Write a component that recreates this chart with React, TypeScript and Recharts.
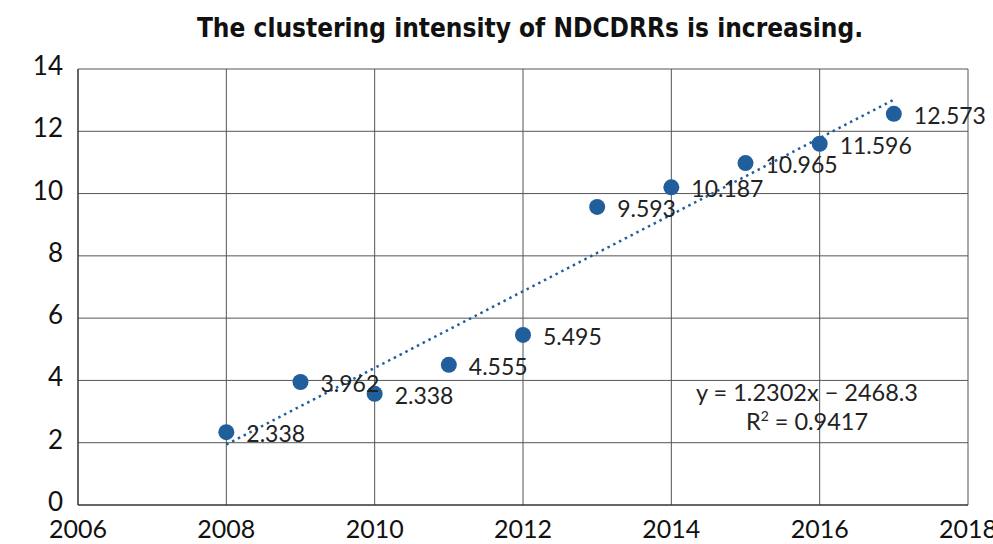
import { ScatterChart, Scatter, XAxis, YAxis, CartesianGrid, LabelList } from "recharts";

const years = [2008, 2009, 2010, 2011, 2012, 2013, 2014, 2015, 2016, 2017];
const values = [2.34, 3.95, 3.57, 4.5, 5.46, 9.57, 10.2, 10.98, 11.6, 12.56];
const labels = ["2.338", "3.962", "2.338", "4.555", "5.495", "9.593", "10.187", "10.965", "11.596", "12.573"];
const xTicks = [2006, 2008, 2010, 2012, 2014, 2016, 2018];
const yTicks = [0, 2, 4, 6, 8, 10, 12, 14];

// trendline from the printed equation
const slope = 1.2302;
const intercept = -2468.3;

const points = years.map((x, i) => ({ x, y: values[i], label: labels[i] }));
const trend = [years[0], years[years.length - 1]].map((x) => ({ x, y: slope * x + intercept }));

const BLUE = "#215e9c";
const FONT = "Lato, 'Open Sans', sans-serif";

function PointLabel(props: any) {
  const { x, y, width, height, value } = props;
  const cx = x + width / 2;
  const cy = y + height / 2;
  return (
    <text x={cx + 20} y={cy + 1} fontSize={23} fill="#222" fontFamily={FONT} dominantBaseline="central">
      {value}
    </text>
  );
}

function YTick(props: any) {
  const { x, y, payload } = props;
  return (
    <text x={x} y={y - 4} textAnchor="end" dominantBaseline="central" fontSize={26} fill="#111" fontFamily={FONT}>
      {payload.value}
    </text>
  );
}

export default function App() {
  return (
    <div style={{ position: "absolute", left: 0, top: 0, width: 993, height: 544, background: "#fff" }}>
      <div
        style={{
          position: "absolute", left: 0, top: 13, width: 1060, textAlign: "center",
          fontFamily: "'Liberation Sans Narrow', 'DejaVu Sans Condensed', sans-serif",
          fontWeight: 700, fontSize: 26, color: "#111",
        }}
      >
        The clustering intensity of NDCDRRs is increasing.
      </div>
      <ScatterChart width={993} height={544} margin={{ top: 69, right: 25, bottom: 0, left: 0 }}>
        <CartesianGrid stroke="#555" strokeWidth={1} />
        <XAxis
          type="number" dataKey="x" domain={[2006, 2018]} ticks={xTicks}
          axisLine={{ stroke: "#222" }} tickLine={false} tickSize={0} tickMargin={15} height={39}
          tick={{ fontSize: 25, fill: "#111", fontFamily: FONT }}
        />
        <YAxis
          type="number" dataKey="y" domain={[0, 14]} ticks={yTicks}
          axisLine={{ stroke: "#222" }} tickLine={false} tickSize={0} tickMargin={15} width={78}
          tick={<YTick />}
        />
        <Scatter
          data={trend} line={{ stroke: BLUE, strokeWidth: 2.5, strokeDasharray: "2.5 4" }}
          shape={() => null} isAnimationActive={false}
        />
        <Scatter data={points} fill={BLUE} isAnimationActive={false}
          shape={(p: any) => <circle cx={p.cx} cy={p.cy} r={8} fill={BLUE} />}
        >
          <LabelList dataKey="label" content={PointLabel} />
        </Scatter>
      </ScatterChart>
      <div
        style={{
          position: "absolute", left: 667, top: 378, width: 280, textAlign: "center",
          fontFamily: FONT, fontSize: 23.5, color: "#222", lineHeight: "29px",
        }}
      >
        <div>y = 1.2302x − 2468.3</div>
        <div>R<sup style={{ fontSize: 14, verticalAlign: "9px", lineHeight: 0 }}>2</sup> = 0.9417</div>
      </div>
    </div>
  );
}
